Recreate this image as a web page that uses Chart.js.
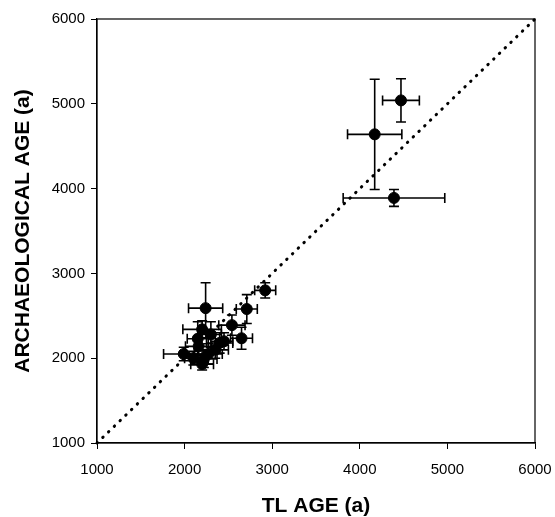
<!DOCTYPE html>
<html>
<head>
<meta charset="utf-8">
<script src="https://cdn.jsdelivr.net/npm/chart.js@4/dist/chart.umd.min.js"></script>
<style>
  body { margin: 0; background: #fff; }
  #wrap { width: 555px; height: 517px; }
</style>
</head>
<body>
<div id="wrap"><canvas id="ageChart" width="555" height="517"></canvas></div>
<script>
// ===== DATA =====
const tlAge   = [4470, 4170, 4390, 2240, 2920, 2710, 2540, 2650, 2200, 1990, 2200, 2220, 2160, 2400, 2300, 2350, 2150, 2450, 2270, 2100];
const tlErr   = [ 210,  310,  580,  195,  120,  120,  150,  125,  220,  230,  130,  150,  150,  150,  120,  150,  120,  100,  160,  100];
const archAge = [5040, 4640, 3890, 2590, 2800, 2580, 2390, 2235, 2340, 2050, 1930, 1990, 2140, 2180, 2280, 2100, 2230, 2200, 2050, 2000];
const archErr = [ 255,  650,  100,  300,   90,  170,  120,  130,  100,   80,   70,  100,  100,  120,  150,  100,  200,  100,  120,   80];

const lineX = [1000, 6000];
const lineY = [1000, 6000];
const tickValues = [1000, 2000, 3000, 4000, 5000, 6000];

const fontFamily = "'Liberation Sans', Arial, sans-serif";

// ===== ERROR BARS + FRAME =====
const errorBars = {
  id: "errorBars",
  beforeDatasetsDraw(chart) {
    const { ctx, scales: { x, y } } = chart;
    const cap = 5;
    ctx.save();
    ctx.strokeStyle = "#000";
    ctx.lineWidth = 1.6;
    tlAge.forEach((v, i) => {
      const px = x.getPixelForValue(v);
      const py = y.getPixelForValue(archAge[i]);
      const x0 = x.getPixelForValue(v - tlErr[i]);
      const x1 = x.getPixelForValue(v + tlErr[i]);
      const y0 = y.getPixelForValue(archAge[i] - archErr[i]);
      const y1 = y.getPixelForValue(archAge[i] + archErr[i]);
      ctx.beginPath();
      ctx.moveTo(x0, py); ctx.lineTo(x1, py);
      ctx.moveTo(x0, py - cap); ctx.lineTo(x0, py + cap);
      ctx.moveTo(x1, py - cap); ctx.lineTo(x1, py + cap);
      ctx.moveTo(px, y0); ctx.lineTo(px, y1);
      ctx.moveTo(px - cap, y0); ctx.lineTo(px + cap, y0);
      ctx.moveTo(px - cap, y1); ctx.lineTo(px + cap, y1);
      ctx.stroke();
    });
    ctx.restore();
  },
  afterDraw(chart) {
    const { ctx, chartArea: a } = chart;
    ctx.save();
    ctx.strokeStyle = "#000";
    ctx.lineWidth = 1.2;
    ctx.strokeRect(a.left, a.top, a.right - a.left, a.bottom - a.top);
    ctx.restore();
  }
};

// ===== CHART =====
new Chart(document.getElementById("ageChart"), {
  data: {
    datasets: [
      {
        type: "line",
        data: lineX.map((v, i) => ({ x: v, y: lineY[i] })),
        borderColor: "#000",
        borderWidth: 3,
        borderDash: [0.5, 7.5],
        borderCapStyle: "round",
        pointRadius: 0,
        fill: false
      },
      {
        type: "scatter",
        data: tlAge.map((v, i) => ({ x: v, y: archAge[i] })),
        backgroundColor: "#000",
        borderColor: "#000",
        pointRadius: 5.5,
        pointHoverRadius: 5.5
      }
    ]
  },
  options: {
    responsive: false,
    animation: false,
    clip: false,
    layout: { padding: { top: 19, right: 20, left: 0, bottom: 0 } },
    plugins: { legend: { display: false }, tooltip: { enabled: false } },
    scales: {
      x: {
        type: "linear",
        min: 1000, max: 6000,
        afterBuildTicks: s => { s.ticks = tickValues.map(v => ({ value: v })); },
        afterFit: s => { s.height = 74; s.paddingLeft = 0; s.paddingRight = 0; },
        grid: { drawOnChartArea: false, tickLength: 6, color: "#000", lineWidth: 1 },
        border: { color: "#000", width: 1.2 },
        ticks: { color: "#000", padding: 12, callback: v => String(v), font: { family: fontFamily, size: 15 } },
        title: {
          display: true, text: "TL AGE (a)", color: "#000",
          font: { family: fontFamily, size: 21, weight: "bold", lineHeight: 1 },
          padding: { top: 0, bottom: 0 }
        }
      },
      y: {
        type: "linear",
        min: 1000, max: 6000,
        afterBuildTicks: s => { s.ticks = tickValues.map(v => ({ value: v })); },
        afterFit: s => { s.width = 97; s.paddingTop = 0; s.paddingBottom = 0; },
        grid: { drawOnChartArea: false, tickLength: 6, color: "#000", lineWidth: 1 },
        border: { color: "#000", width: 1.2 },
        ticks: { color: "#000", padding: 6, callback: v => String(v), font: { family: fontFamily, size: 15 } },
        title: {
          display: true, text: "ARCHAEOLOGICAL AGE (a)", color: "#000",
          font: { family: fontFamily, size: 21, weight: "bold", lineHeight: 1 },
          padding: { top: 13, bottom: 0 }
        }
      }
    }
  },
  plugins: [errorBars]
});
</script>
</body>
</html>
